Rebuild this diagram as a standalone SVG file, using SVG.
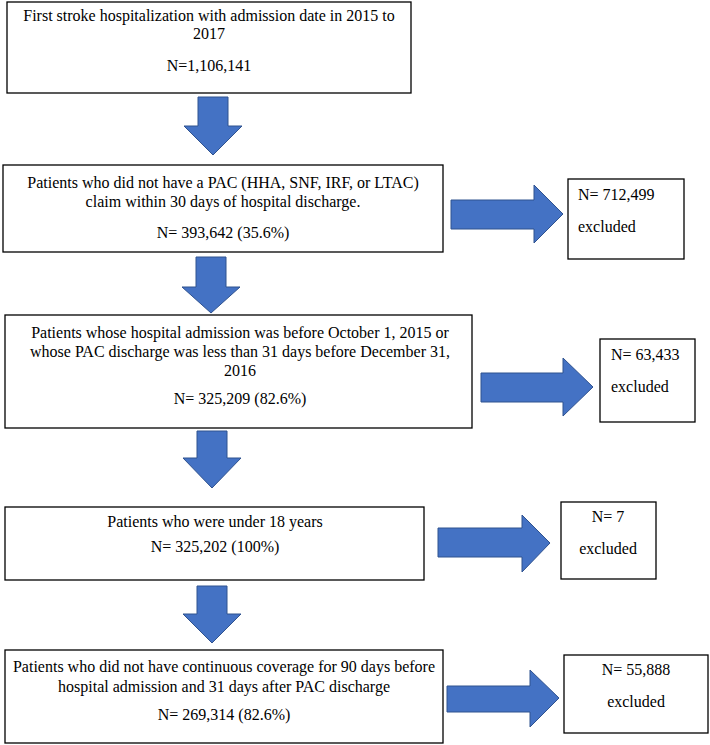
<svg xmlns="http://www.w3.org/2000/svg" width="710" height="745" viewBox="0 0 710 745">
<style>
.box{fill:#fff;stroke:#000;stroke-width:1.3}
.arr{fill:#4472C4;stroke:#2F528F;stroke-width:1}
text{font-family:"Liberation Serif","Times New Roman",serif;font-size:16px;fill:#000}
.c{text-anchor:middle}
</style>
<rect width="710" height="745" fill="#fff"/>
<g id="connectors">
<polygon class="arr" points="198,97 228,97 228,126 242,126 213,155 184,126 198,126"/>
<polygon class="arr" points="196,257 226,257 226,287 240,287 211,313 182,287 196,287"/>
<polygon class="arr" points="197,431 227,431 227,458 241,458 212,488 183,458 197,458"/>
<polygon class="arr" points="197,586 227,586 227,614 241,614 212,643 183,614 197,614"/>
<polygon class="arr" points="451,200 534,200 534,185 563,214 534,243 534,229 451,229"/>
<polygon class="arr" points="481,373 563,373 563,358 593,387 563,416 563,402 481,402"/>
<polygon class="arr" points="438,528 522,528 522,515 550,543 522,572 522,557 438,557"/>
<polygon class="arr" points="447,686 530,686 530,670 559,698 530,727 530,712 447,712"/>
</g>
<g id="n1">
<rect class="box" x="7" y="2" width="404" height="91"/>
<text class="c" x="209" y="21">First stroke hospitalization with admission date in 2015 to</text>
<text class="c" x="209" y="39">2017</text>
<text class="c" x="209" y="71">N=1,106,141</text>
</g>
<g id="n2">
<rect class="box" x="3" y="165" width="440" height="87"/>
<text class="c" x="223" y="188">Patients who did not have a PAC (HHA, SNF, IRF, or LTAC)</text>
<text class="c" x="223" y="207">claim within 30 days of hospital discharge.</text>
<text class="c" x="223" y="238">N= 393,642 (35.6%)</text>
</g>
<g id="x1">
<rect class="box" x="568" y="179" width="116" height="80"/>
<text x="578" y="200">N= 712,499</text>
<text x="578" y="232">excluded</text>
</g>
<g id="n3">
<rect class="box" x="5" y="315" width="467" height="113"/>
<text class="c" x="240" y="338">Patients whose hospital admission was before October 1, 2015 or</text>
<text class="c" x="240" y="357">whose PAC discharge was less than 31 days before December 31,</text>
<text class="c" x="240" y="376">2016</text>
<text class="c" x="240" y="404">N= 325,209 (82.6%)</text>
</g>
<g id="x2">
<rect class="box" x="600" y="339" width="95" height="83"/>
<text x="611" y="360">N= 63,433</text>
<text x="611" y="392">excluded</text>
</g>
<g id="n4">
<rect class="box" x="5" y="507" width="419" height="73"/>
<text class="c" x="215" y="527">Patients who were under 18 years</text>
<text class="c" x="215" y="552">N= 325,202 (100%)</text>
</g>
<g id="x3">
<rect class="box" x="561" y="502" width="95" height="77"/>
<text class="c" x="608" y="522">N= 7</text>
<text class="c" x="608" y="554">excluded</text>
</g>
<g id="n5">
<rect class="box" x="5" y="650" width="438" height="93"/>
<text class="c" x="224" y="672">Patients who did not have continuous coverage for 90 days before</text>
<text class="c" x="224" y="692">hospital admission and 31 days after PAC discharge</text>
<text class="c" x="224" y="720">N= 269,314 (82.6%)</text>
</g>
<g id="x4">
<rect class="box" x="564" y="655" width="144" height="78"/>
<text class="c" x="636" y="675">N= 55,888</text>
<text class="c" x="636" y="707">excluded</text>
</g>
</svg>
